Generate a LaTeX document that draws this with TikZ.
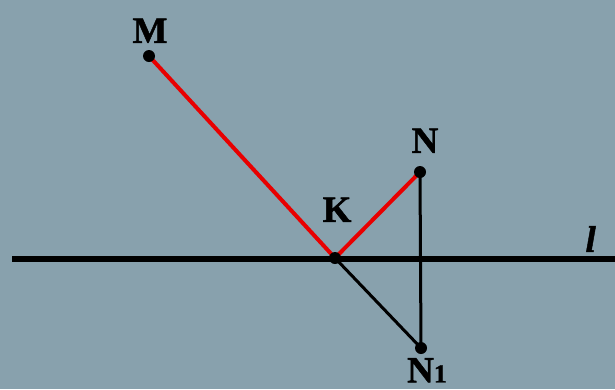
\documentclass[tikz,border=0pt]{standalone}
\usepackage{fontspec}
\setmainfont{Liberation Serif}
\newfontfamily\lblfont[FakeBold=1.2]{Liberation Serif}
\usepackage{xcolor,tikz}
\usetikzlibrary{positioning}
\definecolor{bgblue}{RGB}{136,161,173}
\definecolor{segred}{RGB}{232,0,0}

\begin{document}
\begin{tikzpicture}[x=1pt,y=-1pt,
  lbl/.style={inner sep=0pt,font=\fontsize{37}{37}\lblfont\bfseries},
  pt/.style={circle,fill=black,inner sep=0pt,minimum size=12pt},
  redseg/.style={segred,line width=4pt},
  blkseg/.style={black,line width=3pt}]
\fill[bgblue] (0,0) rectangle (615,389);
\useasboundingbox (0,0) rectangle (615,389);
% line l
\coordinate (Ll) at (12,259); \coordinate (Lr) at (615,259);
\draw[line width=6.5pt] (Ll)--(Lr);
\node[lbl,anchor=south east,font=\fontsize{37}{37}\lblfont\bfseries\itshape] (lname) at (596,252) {l};
% points
\coordinate (M) at (149,56); \coordinate (K) at (335,258);
\coordinate (N) at (420,172); \coordinate (N1) at (421,348);
\draw[blkseg] (N)--(N1); \draw[blkseg] (K)--(N1);
\draw[redseg] (M)--(K)--(N);
\node[pt] (m) at (M) {}; \node[pt] (k) at (K) {};
\node[pt] (n) at (N) {}; \node[pt] (n1) at (N1) {};
\node[lbl,above=13pt of M,xshift=1pt] (mname) {M};
\node[lbl,above=36pt of K,xshift=2pt] (kname) {K};
\node[lbl,above=19pt of N,xshift=5pt] (nname) {N};
\node[lbl,below=10pt of N1,xshift=6pt] (n1name) {N{\fontsize{26}{26}\selectfont 1}};
\end{tikzpicture}
\end{document}
